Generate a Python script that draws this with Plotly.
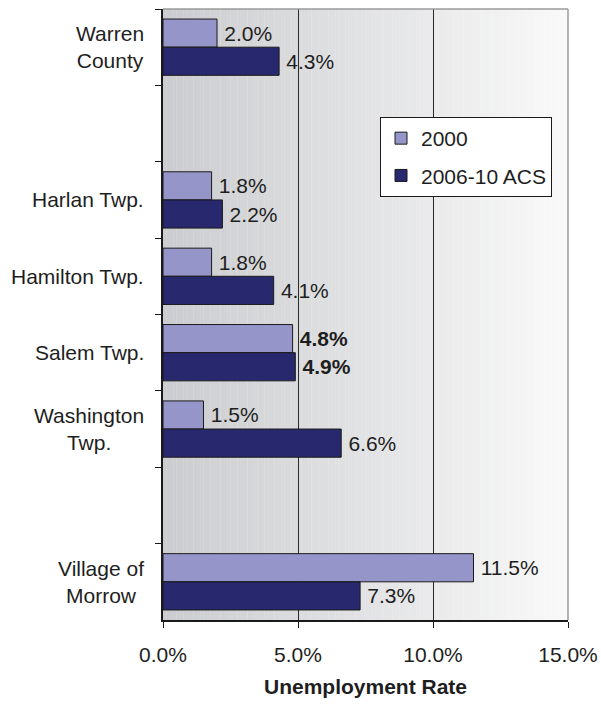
import numpy as np
import plotly.graph_objects as go

# Places listed top to bottom; None marks an empty spacer row
places = ["Warren<br>County", None, "Harlan Twp.", "Hamilton Twp.", "Salem Twp.",
          "Washington<br>Twp.", None, "Village of<br>Morrow"]
rate_2000 = [2.0, None, 1.8, 1.8, 4.8, 1.5, None, 11.5]
rate_acs = [4.3, None, 2.2, 4.1, 4.9, 6.6, None, 7.3]
highlight = "Salem Twp."
x_ticks = [0, 5, 10, 15]

FONT = "Liberation Sans, Arial, Helvetica, sans-serif"
TXT = "#1e1e1e"
FS = 21

# unique category keys (spacer rows get distinct blank names)
keys = [p if p else " " * (i + 1) for i, p in enumerate(places)]


def labels(vals):
    out = []
    for p, v in zip(places, vals):
        if v is None:
            out.append("")
        elif p == highlight:
            out.append(f"\u2009<b>{v:.1f}%</b>")
        else:
            out.append(f"\u2009{v:.1f}%")
    return out


fig = go.Figure()
series = [("2000", rate_2000, "#9595C9"), ("2006-10 ACS", rate_acs, "#28286E")]
for name, vals, color in series:
    fig.add_trace(go.Bar(
        name=name, y=keys, x=vals, orientation="h",
        marker=dict(color=color, line=dict(color="#1a1a1a", width=1)),
        text=labels(vals), textposition="outside", cliponaxis=False,
        constraintext="none",
        textfont=dict(family=FONT, size=FS, color=TXT),
        legendgroup=name,
    ))

# horizontal grey gradient behind the plot area
edges = np.linspace(0, 15, 121)
left, right = np.array([203, 204, 207]), np.array([249, 249, 249])
shapes = []
for i in range(len(edges) - 1):
    t = i / (len(edges) - 2)
    c = (left + (right - left) * t).round().astype(int)
    shapes.append(dict(type="rect", xref="x", yref="paper", x0=edges[i], x1=edges[i + 1] + 0.01,
                       y0=0, y1=1, layer="below", line=dict(width=0),
                       fillcolor=f"rgb({c[0]},{c[1]},{c[2]})"))
# light frame on top and right
shapes.append(dict(type="line", xref="paper", yref="paper", x0=0, x1=1, y0=1, y1=1,
                   line=dict(color="#9a9a9a", width=1.5)))
shapes.append(dict(type="line", xref="paper", yref="paper", x0=1, x1=1, y0=0, y1=1,
                   line=dict(color="#9a9a9a", width=1.5)))

# category labels, centred line by line
annotations = []
for p, k in zip(places, keys):
    if p:
        annotations.append(dict(text=p, xref="paper", x=0, xanchor="right", xshift=-17,
                                yref="y", y=k, yanchor="middle", align="center",
                                showarrow=False, font=dict(family=FONT, size=FS, color=TXT)))

fig.update_layout(
    width=601, height=704,
    margin=dict(l=163, r=33, t=9, b=84),
    paper_bgcolor="white", plot_bgcolor="rgba(0,0,0,0)",
    barmode="group", bargap=0.263, bargroupgap=0,
    font=dict(family=FONT, size=FS, color=TXT),
    shapes=shapes, annotations=annotations,
    legend=dict(x=(380 - 163) / 405, y=(620 - 117) / 611, xanchor="left", yanchor="top",
                bgcolor="white", bordercolor="#1a1a1a", borderwidth=1,
                font=dict(family=FONT, size=FS, color=TXT),
                traceorder="grouped", tracegroupgap=7),
    xaxis=dict(range=[0, 15], tickvals=x_ticks, ticktext=[f"{t:.1f}%" for t in x_ticks],
               ticks="outside", ticklen=6, tickcolor="#1a1a1a", showline=True,
               linecolor="#1a1a1a", linewidth=1.5, showgrid=True, gridcolor="#2a2a2a",
               gridwidth=1, zeroline=False, ticklabelstandoff=9, automargin=False,
               tickfont=dict(family=FONT, size=FS, color=TXT),
               title=dict(text="<b>Unemployment Rate</b>", standoff=14,
                          font=dict(family=FONT, size=FS, color=TXT))),
    yaxis=dict(type="category", categoryorder="array", categoryarray=keys,
               autorange="reversed", tickson="boundaries", ticks="outside", ticklen=6,
               tickcolor="#1a1a1a", showline=True, linecolor="#1a1a1a", linewidth=1.5,
               showgrid=False, showticklabels=False, zeroline=False, automargin=False),
)

fig.write_html("out.html")
